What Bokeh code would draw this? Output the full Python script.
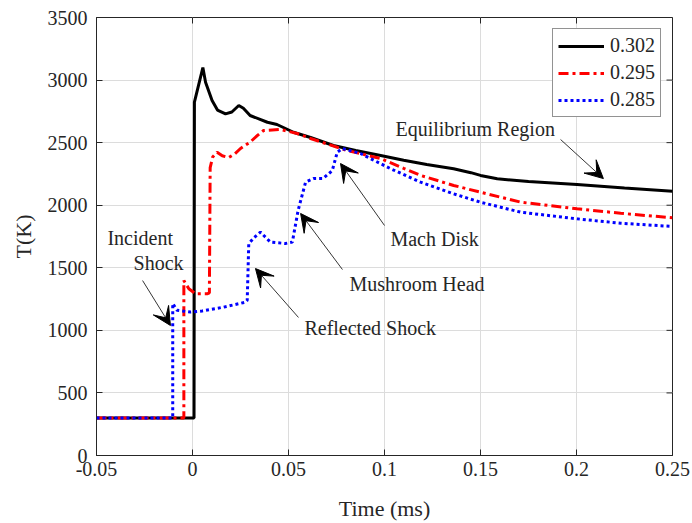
import math
from bokeh.plotting import figure
from bokeh.models import (Range1d, FixedTicker, Legend, LegendItem,
                          Arrow, VeeHead, Label)
from bokeh.embed import file_html
from bokeh.resources import INLINE

# ---------------- data ----------------
t_302 = [-0.05, 0.0008, 0.0010, 0.0054, 0.0068, 0.0102, 0.0130, 0.0172, 0.0205,
         0.0241, 0.0265, 0.0300, 0.0390, 0.0440, 0.0526, 0.0615, 0.0734, 0.0850,
         0.0980, 0.1100, 0.1220, 0.1360, 0.1450, 0.1500, 0.1587, 0.1750, 0.2003,
         0.2250, 0.2500]
T_302 = [300, 300, 2823, 3100, 2983, 2837, 2760, 2730, 2745,
         2797, 2775, 2717, 2663, 2645, 2583, 2541, 2477, 2437,
         2397, 2360, 2325, 2291, 2260, 2238, 2211, 2190, 2166,
         2137, 2112]

t_295 = [-0.05, -0.0045, -0.0045, -0.0019, 0.0016, 0.0076, 0.0088, 0.0092, 0.0105,
         0.0128, 0.0155, 0.0188, 0.0220, 0.0250, 0.0300, 0.0340, 0.0370, 0.0460,
         0.0545, 0.0615, 0.0750, 0.0806, 0.0980, 0.1100, 0.1188, 0.1360, 0.1500,
         0.1710, 0.2003, 0.2230, 0.2500]
T_295 = [300, 300, 1398, 1332, 1292, 1292, 1300, 2300, 2385,
         2424, 2395, 2381, 2410, 2453, 2504, 2560, 2597, 2605,
         2573, 2533, 2465, 2437, 2373, 2295, 2238, 2158, 2104,
         2024, 1971, 1936, 1899]

t_285 = [-0.05, -0.0103, -0.0103, -0.0080, -0.0010, 0.0050, 0.0160, 0.0276, 0.0285,
         0.0293, 0.0320, 0.0354, 0.0380, 0.0406, 0.0484, 0.0520, 0.0550, 0.0589,
         0.0630, 0.0680, 0.0728, 0.0754, 0.0780, 0.0875, 0.1030, 0.1188, 0.1360,
         0.1500, 0.1710, 0.2003, 0.2230, 0.2500]
T_285 = [300, 300, 1215, 1160, 1146, 1155, 1185, 1225, 1240,
         1692, 1740, 1785, 1745, 1705, 1694, 1705, 1958, 2184,
         2213, 2213, 2277, 2424, 2453, 2413, 2293, 2184, 2091,
         2024, 1944, 1891, 1856, 1830]

series_labels = ["0.302", "0.295", "0.285"]

x_ticks = [-0.05, 0, 0.05, 0.1, 0.15, 0.2, 0.25]
x_tick_labels = ["-0.05", "0", "0.05", "0.1", "0.15", "0.2", "0.25"]
y_ticks = [0, 500, 1000, 1500, 2000, 2500, 3000, 3500]

X_MIN, X_MAX = -0.05, 0.25
Y_MIN, Y_MAX = 0, 3500

FONT = "Liberation Serif"
AX_COL = "#262626"

p = figure(width=692, height=523, output_backend="svg", toolbar_location=None,
           x_range=Range1d(X_MIN, X_MAX), y_range=Range1d(Y_MIN, Y_MAX),
           min_border_left=96, min_border_right=20, min_border_top=17,
           min_border_bottom=68)
p.background_fill_color = "white"
p.border_fill_color = "white"
p.outline_line_color = AX_COL
p.outline_line_width = 1

# grid
p.xgrid.ticker = FixedTicker(ticks=x_ticks)
p.ygrid.ticker = FixedTicker(ticks=y_ticks)
for g in (p.xgrid, p.ygrid):
    g.grid_line_color = "#dcdcdc"
    g.grid_line_width = 1

def style_axis(ax):
    ax.axis_line_color = AX_COL
    ax.major_tick_line_color = AX_COL
    ax.major_tick_in = 6
    ax.major_tick_out = 0
    ax.minor_tick_line_color = None
    ax.major_label_text_font = FONT
    ax.major_label_text_color = AX_COL
    ax.major_label_text_font_size = "20px"
    ax.axis_label_text_font = FONT
    ax.axis_label_text_font_size = "22px"
    ax.axis_label_text_font_style = "normal"
    ax.axis_label_text_color = AX_COL

xa = p.xaxis[0]
xa.ticker = FixedTicker(ticks=x_ticks)
xa.major_label_overrides = {tv: lab for tv, lab in zip(x_ticks, x_tick_labels)}
style_axis(xa)
xa.major_label_standoff = 6
xa.axis_label = "Time (ms)"
xa.axis_label_standoff = 17

ya = p.yaxis[0]
ya.ticker = FixedTicker(ticks=y_ticks)
style_axis(ya)
ya.major_label_standoff = 9
ya.axis_label = "T(K)"
ya.axis_label_standoff = 9

# inward ticks on the top and right edges of the box
p.ray(x=x_ticks, y=[Y_MAX] * len(x_ticks), length=6, length_units="screen",
      angle=-math.pi / 2, line_color=AX_COL, line_width=1)
p.ray(x=[X_MAX] * len(y_ticks), y=y_ticks, length=6, length_units="screen",
      angle=math.pi, line_color=AX_COL, line_width=1)

r1 = p.line(t_302, T_302, line_color="black", line_width=3)
r2 = p.line(t_295, T_295, line_color="#ff0000", line_width=3, line_dash="10 4 3 4")
r3 = p.line(t_285, T_285, line_color="#0000ff", line_width=3, line_dash="3 3")

legend = Legend(items=[LegendItem(label=series_labels[0], renderers=[r1]),
                       LegendItem(label=series_labels[1], renderers=[r2]),
                       LegendItem(label=series_labels[2], renderers=[r3])],
                location="top_right")
legend.label_text_font = FONT
legend.label_text_font_size = "20px"
legend.label_text_color = AX_COL
legend.glyph_width = 46
legend.glyph_height = 20
legend.label_height = 20
legend.spacing = 4
legend.padding = 5
legend.margin = 11
legend.label_standoff = 6
legend.border_line_color = AX_COL
legend.border_line_width = 1
legend.background_fill_color = "white"
legend.background_fill_alpha = 1
p.add_layout(legend)

# ---------------- annotations ----------------
arrows = [
    (-0.0260, 1398, -0.0115, 1039),
    (0.0552, 1103, 0.0328, 1494),
    (0.0781, 1486, 0.0563, 1934),
    (0.1000, 1838, 0.0771, 2333),
    (0.1917, 2525, 0.2140, 2213),
]
for xs, ys, xe, ye in arrows:
    p.add_layout(Arrow(x_start=xs, y_start=ys, x_end=xe, y_end=ye,
                       line_color="black", line_width=0.8,
                       end=VeeHead(size=18, fill_color="black",
                                   line_color="black", line_width=1)))

labels = [
    ("Incident", -0.0443, 1742),
    ("Shock", -0.0307, 1542),
    ("Reflected Shock", 0.0583, 1015),
    ("Mushroom Head", 0.0818, 1374),
    ("Mach Disk", 0.1031, 1734),
    ("Equilibrium Region", 0.1057, 2613),
]
for txt, lx, ly in labels:
    p.add_layout(Label(x=lx, y=ly, text=txt, text_font=FONT,
                       text_font_size="20px", text_color=AX_COL,
                       text_baseline="middle", text_align="left"))

open("out.html", "w").write(file_html(p, INLINE))
